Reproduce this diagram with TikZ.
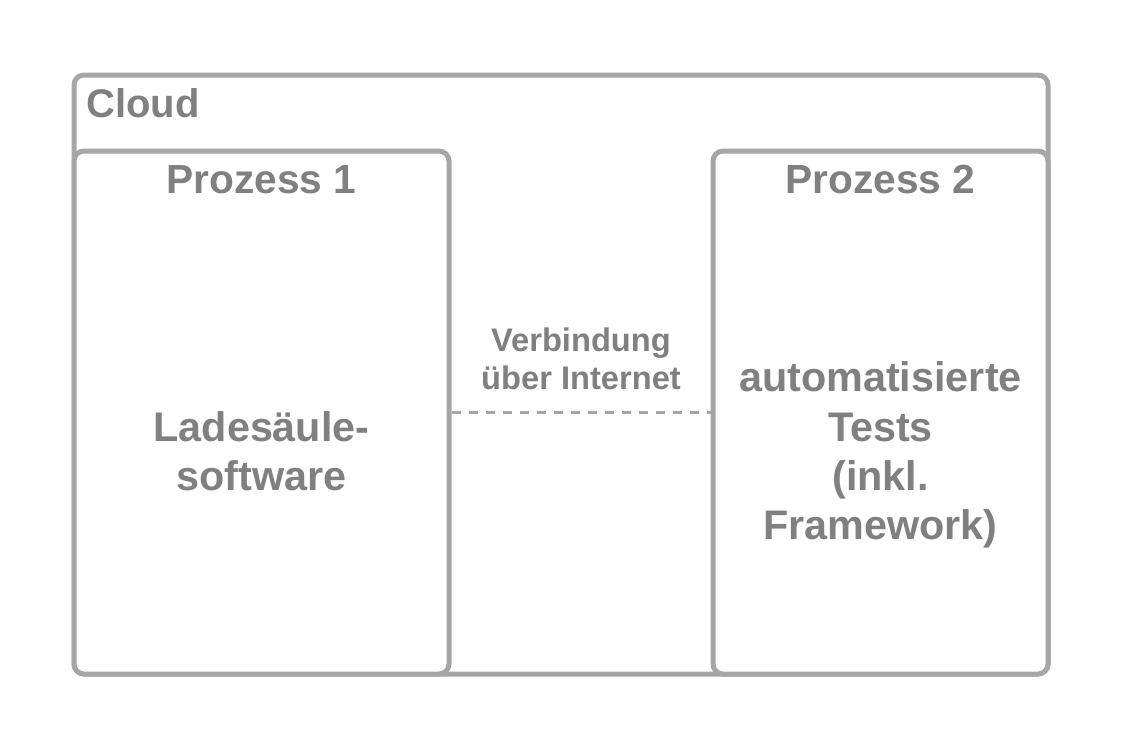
\documentclass[tikz,border=0pt]{standalone}
\usepackage{fontspec}
\setmainfont{Liberation Sans}

\definecolor{boxgray}{RGB}{166,166,166}
\definecolor{txtgray}{RGB}{128,128,128}

\tikzset{every picture/.style={line width=0.75pt}}
\tikzset{
  rbox/.style={draw=boxgray, line width=3.75pt, rounded corners=7.5pt, inner sep=0pt},
  lbl/.style={text=txtgray, font=\bfseries, inner sep=0pt, align=center},
  dashline/.style={draw=boxgray, line width=1.9pt, dash pattern=on 6.75pt off 6pt}
}

\begin{document}
\begin{tikzpicture}[x=0.75pt,y=0.75pt,yscale=-1,xscale=1]
\useasboundingbox (0,0) rectangle (1125,750); %set diagram to 1125 x 750

%Rounded Rect: Cloud
\node[rbox, minimum width=730.5pt, minimum height=449.25pt] (cloud) at (561,374.5) {};
%Rounded Rect: Prozess 1
\node[rbox, fill=white, minimum width=281.25pt, minimum height=392.25pt] (proc1) at (261.5,412.5) {};
%Rounded Rect: Prozess 2
\node[rbox, fill=white, minimum width=251.25pt, minimum height=392.25pt] (proc2) at (880.5,412.5) {};

%Straight Lines: Verbindung
\draw[dashline] (proc1.east) -- (proc2.west) ;

%Text Node
\node[lbl, anchor=base west, font=\bfseries\fontsize{30}{36}\selectfont] (cloudTitle) at (86,117) {Cloud};
%Text Node
\node[lbl, anchor=base, font=\bfseries\fontsize{30.5}{36}\selectfont] (proc1Title) at (261.5,193) {Prozess 1};
%Text Node
\node[lbl, anchor=base, font=\bfseries\fontsize{30.5}{36}\selectfont] (proc2Title) at (880.5,193) {Prozess 2};
%Text Node
\node[lbl, font=\bfseries\fontsize{31}{36.75}\selectfont] (proc1Text) at (261.5,451.5) {Ladesäule-\\software};
%Text Node
\node[lbl, font=\bfseries\fontsize{31}{37}\selectfont] (proc2Text) at (880.5,455) {automatisierte\\Tests\\(inkl.\\Framework)};
%Text Node
\node[lbl, font=\bfseries\fontsize{24.5}{28.5}\selectfont] (linkText) at (581,359) {Verbindung\\über Internet};

\end{tikzpicture}
\end{document}
